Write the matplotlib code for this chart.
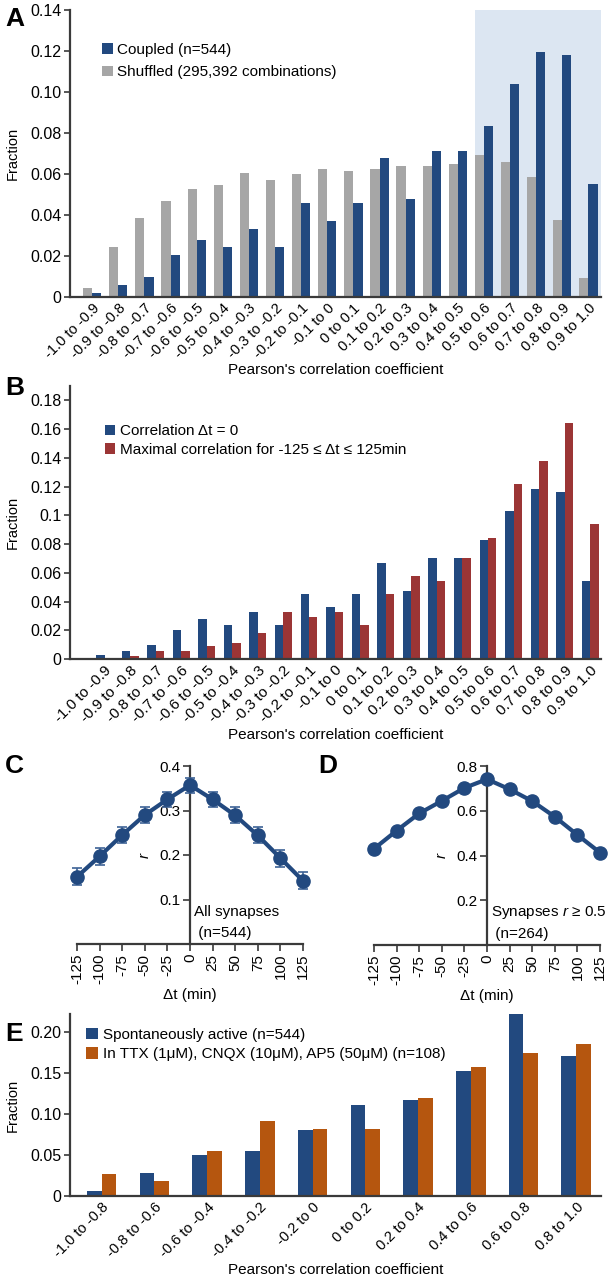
import matplotlib
matplotlib.use('Agg')
import matplotlib.pyplot as plt
from matplotlib.patches import Patch
import numpy as np

plt.rcParams['font.family'] = ['Liberation Sans', 'DejaVu Sans']
plt.rcParams['mathtext.fontset'] = 'custom'
plt.rcParams['mathtext.it'] = 'Liberation Sans:italic'
plt.rcParams['mathtext.rm'] = 'Liberation Sans'
plt.rcParams['font.size'] = 11

# ---------------- data ----------------
bins20 = ['-1.0 to -0.9', '-0.9 to -0.8', '-0.8 to -0.7', '-0.7 to -0.6', '-0.6 to -0.5',
          '-0.5 to -0.4', '-0.4 to -0.3', '-0.3 to -0.2', '-0.2 to -0.1', '-0.1 to 0',
          '0 to 0.1', '0.1 to 0.2', '0.2 to 0.3', '0.3 to 0.4', '0.4 to 0.5',
          '0.5 to 0.6', '0.6 to 0.7', '0.7 to 0.8', '0.8 to 0.9', '0.9 to 1.0']
coupled = [0.0021, 0.0059, 0.0098, 0.0203, 0.0276, 0.0242, 0.0332, 0.0242, 0.0459, 0.0369,
           0.0459, 0.0678, 0.0479, 0.0714, 0.0714, 0.0836, 0.1041, 0.1197, 0.1180, 0.0552]
shuffled = [0.0046, 0.0242, 0.0386, 0.0469, 0.0528, 0.0547, 0.0603, 0.0569, 0.0601, 0.0624,
            0.0614, 0.0624, 0.0640, 0.0640, 0.0647, 0.0694, 0.0658, 0.0587, 0.0376, 0.0092]
corr_dt0 = [0.0025, 0.0058, 0.0095, 0.0203, 0.0277, 0.0238, 0.0326, 0.0238, 0.0453, 0.0365,
            0.0453, 0.0670, 0.0473, 0.0704, 0.0704, 0.0831, 0.1028, 0.1186, 0.1165, 0.0543]
corr_max = [0.0, 0.0020, 0.0053, 0.0053, 0.0092, 0.0110, 0.0180, 0.0326, 0.0290, 0.0326,
            0.0238, 0.0450, 0.0577, 0.0543, 0.0704, 0.0845, 0.1220, 0.1380, 0.1640, 0.0940]

dt = [-125, -100, -75, -50, -25, 0, 25, 50, 75, 100, 125]
r_all = [0.151, 0.197, 0.245, 0.290, 0.325, 0.357, 0.325, 0.289, 0.244, 0.193, 0.142]
r_all_err = [0.019, 0.019, 0.018, 0.018, 0.017, 0.017, 0.017, 0.018, 0.018, 0.019, 0.019]
r_high = [0.430, 0.511, 0.588, 0.644, 0.702, 0.741, 0.696, 0.643, 0.573, 0.492, 0.413]
r_high_err = [0.008, 0.008, 0.008, 0.008, 0.008, 0.008, 0.008, 0.008, 0.008, 0.008, 0.008]

bins10 = ['-1.0 to -0.8', '-0.8 to -0.6', '-0.6 to -0.4', '-0.4 to -0.2', '-0.2 to 0',
          '0 to 0.2', '0.2 to 0.4', '0.4 to 0.6', '0.6 to 0.8', '0.8 to 1.0']
spont = [0.006, 0.028, 0.050, 0.055, 0.080, 0.111, 0.117, 0.153, 0.222, 0.171]
ttx = [0.027, 0.018, 0.055, 0.092, 0.082, 0.082, 0.119, 0.157, 0.175, 0.185]

# ---------------- style ----------------
BLUE = '#22497f'
GRAY = '#a6a6a6'
RED = '#9b3535'
ORANGE = '#b5560f'
SHADE = '#dce6f2'
AXC = '#3a3a3a'

W, H = 610, 1280
fig = plt.figure(figsize=(W / 100, H / 100), dpi=100)


def px_axes(left, top, right, bottom):
    return fig.add_axes([left / W, (H - bottom) / H, (right - left) / W, (bottom - top) / H])


def style_bar_axes(ax, xls=10.5):
    for s in ['top', 'right']:
        ax.spines[s].set_visible(False)
    for s in ['left', 'bottom']:
        ax.spines[s].set_color(AXC)
        ax.spines[s].set_linewidth(1.6)
    ax.tick_params(axis='y', direction='out', length=4, width=1.2, color=AXC, labelsize=11.5, pad=2)
    ax.tick_params(axis='x', length=0, labelsize=xls, pad=3)


def sq_handles(colors, labels):
    return [Patch(facecolor=c, edgecolor='none', label=l) for c, l in zip(colors, labels)]


# ---------------- Panel A ----------------
axA = px_axes(70, 10, 601, 297)
x = np.arange(len(bins20))
wA = 0.35
axA.axvspan(15 - wA, 19.5, color=SHADE, zorder=0, lw=0)
axA.bar(x - wA / 2, shuffled, wA, color=GRAY, zorder=2)
axA.bar(x + wA / 2, coupled, wA, color=BLUE, zorder=2)
axA.set_xlim(-0.85, 19.48)
axA.set_ylim(0, 0.14)
axA.set_yticks([0, 0.02, 0.04, 0.06, 0.08, 0.10, 0.12, 0.14])
axA.set_yticklabels(['0', '0.02', '0.04', '0.06', '0.08', '0.10', '0.12', '0.14'])
axA.set_xticks(x)
axA.set_xticklabels(bins20, rotation=45, ha='right', rotation_mode='anchor')
style_bar_axes(axA, 10.5)
axA.set_ylabel('Fraction', fontsize=10.5, labelpad=8)
axA.set_xlabel("Pearson's correlation coefficient", fontsize=11, labelpad=1)
axA.legend(handles=sq_handles([BLUE, GRAY], ['Coupled (n=544)', 'Shuffled (295,392 combinations)']),
           loc='upper left', bbox_to_anchor=(0.06, 0.885), frameon=False, fontsize=11,
           handlelength=0.7, handleheight=0.7, handletextpad=0.3, labelspacing=0.55, borderpad=0,
           borderaxespad=0)

# ---------------- Panel B ----------------
axB = px_axes(70, 386, 601, 659)
wB = 0.33
axB.bar(x - wB / 2, corr_dt0, wB, color=BLUE, zorder=2)
axB.bar(x + wB / 2, corr_max, wB, color=RED, zorder=2)
axB.set_xlim(-1.35, 19.42)
axB.set_ylim(0, 0.19)
axB.set_yticks([0, 0.02, 0.04, 0.06, 0.08, 0.1, 0.12, 0.14, 0.16, 0.18])
axB.set_yticklabels(['0', '0.02', '0.04', '0.06', '0.08', '0.1', '0.12', '0.14', '0.16', '0.18'])
axB.set_xticks(x)
axB.set_xticklabels(bins20, rotation=45, ha='right', rotation_mode='anchor')
style_bar_axes(axB, 11)
axB.set_ylabel('Fraction', fontsize=10.5, labelpad=8)
axB.set_xlabel("Pearson's correlation coefficient", fontsize=11, labelpad=2)
axB.legend(handles=sq_handles([BLUE, RED], ['Correlation \u0394t = 0',
                                           'Maximal correlation for -125 \u2264 \u0394t \u2264 125min']),
           loc='upper left', bbox_to_anchor=(0.065, 0.86), frameon=False, fontsize=11,
           handlelength=0.7, handleheight=0.7, handletextpad=0.3, labelspacing=0.3, borderpad=0,
           borderaxespad=0)


# ---------------- Panels C & D ----------------
def line_panel(ax, y, yerr, ylim, yticks, txt1, txt2, ty1, ty2):
    ax.errorbar(dt, y, yerr=yerr, color=BLUE, lw=3, marker='o', ms=9.5, mec=BLUE, mfc=BLUE,
                ecolor='#3d6296', elinewidth=1.2, capsize=3.5, capthick=1.2, clip_on=False, zorder=3)
    ax.set_xlim(-125, 125)
    ax.set_ylim(*ylim)
    ax.spines['left'].set_position(('data', 0))
    for s in ['top', 'right']:
        ax.spines[s].set_visible(False)
    for s in ['left', 'bottom']:
        ax.spines[s].set_color(AXC)
        ax.spines[s].set_linewidth(1.6)
    ax.set_xticks(dt)
    ax.set_xticklabels([str(v) for v in dt], rotation=90)
    ax.set_yticks(yticks)
    ax.set_yticklabels([f'{v:g}' for v in yticks])
    ax.tick_params(axis='both', direction='out', length=5, width=1.2, color=AXC, labelsize=11, pad=2)
    ax.set_xlabel('\u0394t (min)', fontsize=11, labelpad=3)
    ax.set_ylabel('r', fontstyle='italic', fontsize=11)
    ax.yaxis.set_label_coords(0.33, 0.5)
    ax.text(4, ty1, txt1, fontsize=11, ha='left', va='center')
    ax.text(4, ty2, txt2, fontsize=11, ha='left', va='center')


axC = px_axes(77, 766, 303, 944)
line_panel(axC, r_all, r_all_err, (0, 0.4), [0.1, 0.2, 0.3, 0.4],
           'All synapses', ' (n=544)', 0.072, 0.025)
axD = px_axes(374, 766, 600, 945)
line_panel(axD, r_high, r_high_err, (0, 0.8), [0.2, 0.4, 0.6, 0.8],
           'Synapses $r$ \u2265 0.5', ' (n=264)', 0.144, 0.05)

# ---------------- Panel E ----------------
axE = px_axes(70, 1014, 601, 1196)
xe = np.arange(len(bins10))
wE = 0.28
axE.bar(xe - wE / 2, spont, wE, color=BLUE, zorder=2)
axE.bar(xe + wE / 2, ttx, wE, color=ORANGE, zorder=2)
axE.set_xlim(-0.6, 9.47)
axE.set_ylim(0, 0.222)
axE.set_yticks([0, 0.05, 0.10, 0.15, 0.20])
axE.set_yticklabels(['0', '0.05', '0.10', '0.15', '0.20'])
axE.set_xticks(xe)
axE.set_xticklabels(bins10, rotation=45, ha='right', rotation_mode='anchor')
style_bar_axes(axE, 10.5)
axE.set_ylabel('Fraction', fontsize=10.5, labelpad=8)
axE.set_xlabel("Pearson's correlation coefficient", fontsize=11, labelpad=2)
axE.legend(handles=sq_handles([BLUE, ORANGE], ['Spontaneously active (n=544)',
                                              'In TTX (1\u03bcM), CNQX (10\u03bcM), AP5 (50\u03bcM) (n=108)']),
           loc='upper left', bbox_to_anchor=(0.03, 0.925), frameon=False, fontsize=11,
           handlelength=0.8, handleheight=0.8, handletextpad=0.3, labelspacing=0.35, borderpad=0,
           borderaxespad=0)

# ---------------- panel letters ----------------
for lab, xx, yy in [('A', 5, 7), ('B', 5, 376), ('C', 5, 754), ('D', 318, 754), ('E', 5, 1022)]:
    fig.text(xx / W, 1 - yy / H, lab, fontsize=19, fontweight='bold', va='top', ha='left')

fig.savefig('out.png', dpi=100)
